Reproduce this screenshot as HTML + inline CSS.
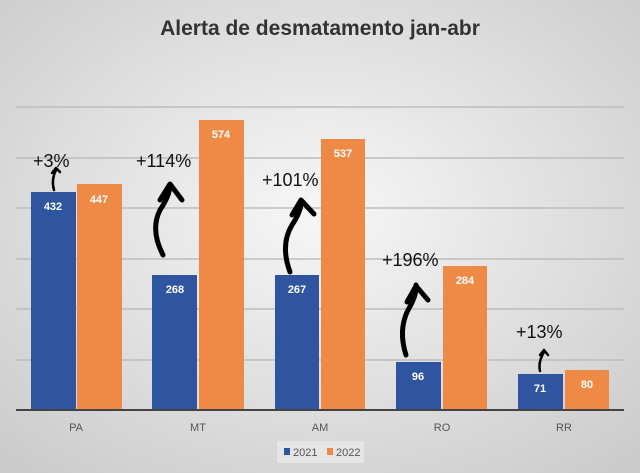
<!DOCTYPE html>
<html><head><meta charset="utf-8"><style>
html,body{margin:0;padding:0;width:640px;height:473px;overflow:hidden;font-family:"Liberation Sans",sans-serif;background:#d0d0d0}
svg{display:block}
</style></head><body>
<svg width="640" height="473" xmlns="http://www.w3.org/2000/svg">
<defs>
<radialGradient id="bg" cx="50%" cy="45%" r="70%"><stop offset="0" stop-color="#f7f7f7"/><stop offset="1" stop-color="#cccccc"/></radialGradient>
</defs>
<rect width="640" height="473" fill="url(#bg)"/>
<text x="320" y="35" text-anchor="middle" font-size="21" font-weight="bold" fill="#333">Alerta de desmatamento jan-abr</text>
<g stroke="#bdbdbd" stroke-width="1.5">
<line x1="16" x2="624" y1="107" y2="107"/><line x1="16" x2="624" y1="158" y2="158"/><line x1="16" x2="624" y1="208" y2="208"/><line x1="16" x2="624" y1="259" y2="259"/><line x1="16" x2="624" y1="309" y2="309"/><line x1="16" x2="624" y1="360" y2="360"/>
</g>
<g fill="#2f55a0">
<rect x="31" y="192" width="45" height="218"/><rect x="152" y="275" width="45" height="135"/><rect x="275" y="275" width="44" height="135"/><rect x="396" y="362" width="45" height="48"/><rect x="518" y="374" width="45" height="36"/>
</g>
<g fill="#ef8a46">
<rect x="77" y="184" width="45" height="226"/><rect x="199" y="120" width="45" height="290"/><rect x="321" y="139" width="44" height="271"/><rect x="443" y="266" width="44" height="144"/><rect x="565" y="370" width="44" height="40"/>
</g>
<line x1="16" x2="624" y1="410" y2="410" stroke="#444" stroke-width="2"/>
<g font-size="11" font-weight="bold" fill="#fff" text-anchor="middle">
<text x="53" y="210">432</text><text x="99" y="203">447</text>
<text x="175" y="293">268</text><text x="221" y="138">574</text>
<text x="297" y="293">267</text><text x="343" y="157">537</text>
<text x="418" y="380">96</text><text x="465" y="284">284</text>
<text x="540" y="392">71</text><text x="587" y="388">80</text>
</g>
<g font-size="11" fill="#555" text-anchor="middle">
<text x="76" y="431">PA</text><text x="198" y="431">MT</text><text x="320" y="431">AM</text><text x="442" y="431">RO</text><text x="564" y="431">RR</text>
</g>
<rect x="277" y="441" width="87" height="22" fill="#eee" opacity=".6"/>
<rect x="284" y="448" width="6" height="7" fill="#2f55a0"/><text x="293" y="456" font-size="11" fill="#555">2021</text>
<rect x="327" y="448" width="6" height="7" fill="#ef8a46"/><text x="336" y="456" font-size="11" fill="#555">2022</text>
<g font-size="18" fill="#111">
<text x="33" y="167">+3%</text><text x="136" y="167">+114%</text><text x="262" y="186">+101%</text><text x="382" y="266">+196%</text><text x="516" y="338">+13%</text>
</g>
<g fill="none" stroke="#000" stroke-linecap="round" stroke-linejoin="round">
<path d="M54 190 Q51 180 56 170 M52 173 L56 168 L60 172" stroke-width="2.5"/>
<path d="M163 255 Q150 230 160 210 Q170 195 170 185 M160 200 L170 184 L182 200" stroke-width="5"/>
<path d="M290 272 Q280 245 292 225 Q302 210 301 200 M292 215 L301 200 L314 214" stroke-width="5"/>
<path d="M406 355 Q398 330 408 310 Q417 295 416 285 M407 302 L416 286 L428 300" stroke-width="5"/>
<path d="M540 371 Q538 362 544 352 M540 355 L544 350 L548 355" stroke-width="2.5"/>
</g>
</svg>
</body></html>
